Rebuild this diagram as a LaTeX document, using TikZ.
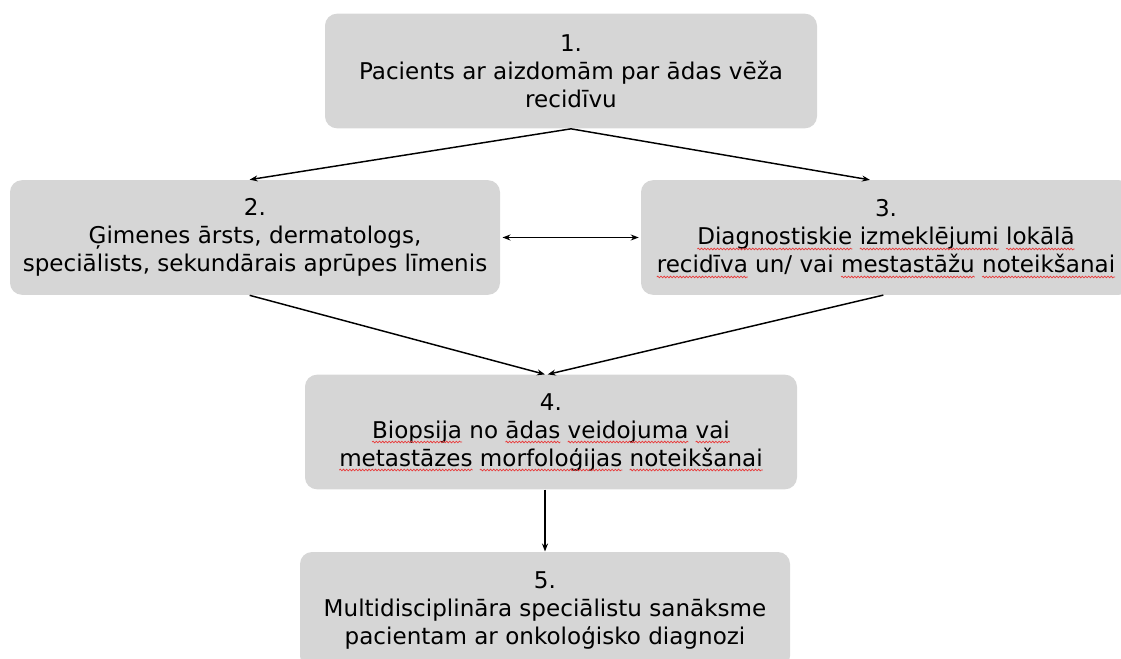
\documentclass[tikz,border=0pt]{standalone}
\usepackage{fontspec}
\setmainfont{DejaVu Sans}
\usetikzlibrary{arrows.meta,decorations.pathmorphing}

% red wavy underline of the spell checker
\newcommand\spellmark[1]{\tikz[reset cm, baseline=(w.base)]{\node [inner sep=0pt, outer sep=0pt, minimum width=0pt, minimum height=0pt, fill=none, draw=none, sharp corners] (w) {#1};
	\draw [overlay, sharp corners, draw={rgb, 255:red, 232; green, 60; blue, 60 }, line width=0.55pt, decorate, decoration={snake, amplitude=0.6pt, segment length=2.4pt}] ([yshift=-3pt]w.base west) -- ([yshift=-3pt]w.base east);}}

\tikzset{every picture/.style={line width=0.75pt}}
\tikzset{
  stepbox/.style={draw=none, fill={rgb, 255:red, 214; green, 214; blue, 214 }, rounded corners=9pt,
    minimum width=367.5pt, minimum height=86pt, align=center, inner sep=0pt,
    font=\fontsize{17.3}{21}\selectfont},
  flow/.style={line width=1.1pt, -{Stealth[length=6pt,width=4.5pt]}}
}

\begin{document}
\begin{tikzpicture}[x=0.75pt,y=0.75pt,yscale=-1,xscale=1]
	%set diagram to the size of the reference
	\useasboundingbox (0,0) rectangle (1121,659);

	% Text Node
	\node [stepbox, minimum width=369pt] (pacients) at (571,71) {1.\\Pacients ar aizdomām par ādas vēža\\recidīvu};
	% Text Node
	\node [stepbox] (gimenes) at (255,237.5) {2.\\Ģimenes ārsts, dermatologs,\\speciālists, sekundārais aprūpes līmenis};
	% Text Node
	\node [stepbox] (diagnostika) at (886,237.5) {3.\\\spellmark{Diagno}\spellmark{stiskie} \spellmark{izmeklējumi} \spellmark{lokālā}\\\spellmark{recidīva} un/ vai \spellmark{mestastāžu} \spellmark{noteikšanai}};
	% Text Node
	\node [stepbox, minimum width=369pt] (biopsija) at (551,432) {4.\\\spellmark{Biopsija} no \spellmark{ādas} \spellmark{veidojuma} \spellmark{vai}\\\spellmark{metastāzes} \spellmark{morfoloģijas} \spellmark{noteikšanai}};
	% Text Node
	\node [stepbox, minimum height=87pt] (konsilijs) at (545,610) {5.\\Multidisciplināra speciālistu sanāksme\\pacientam ar onkoloģisko diagnozi};

	%Straight Lines
	\draw [flow] (pacients.south) -- ([xshift=-4pt]gimenes.north);
	\draw [flow] (pacients.south) -- ([xshift=-12pt]diagnostika.north);
	\draw [flow, {Stealth[length=6pt,width=4.5pt]}-{Stealth[length=6pt,width=4.5pt]}] ([xshift=1.5pt]gimenes.east) -- ([xshift=-1.5pt]diagnostika.west);
	\draw [flow] ([xshift=-4pt]gimenes.south) -- ([xshift=-4.5pt]biopsija.north);
	\draw [flow] ([xshift=-2pt]diagnostika.south) -- ([xshift=-2.5pt]biopsija.north);
	\draw [flow] ([xshift=-4.5pt]biopsija.south) -- (konsilijs.north);

\end{tikzpicture}
\end{document}
